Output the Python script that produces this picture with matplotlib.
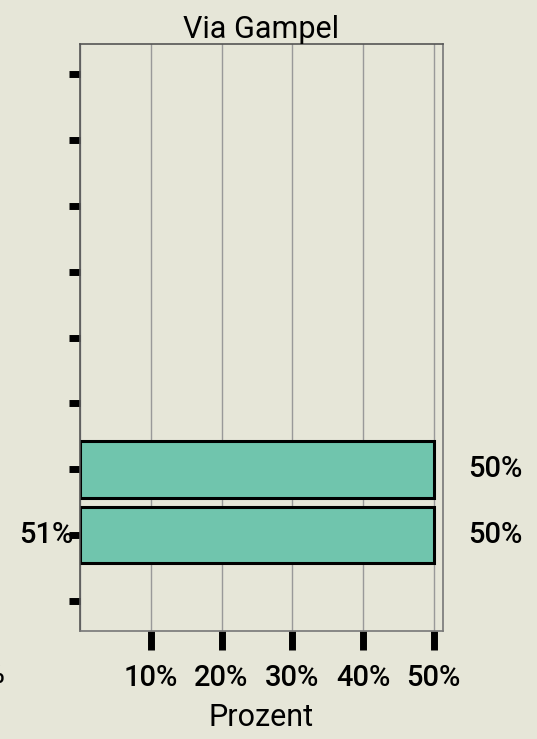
import matplotlib
matplotlib.use("Agg")
import matplotlib.pyplot as plt

# data
title = "Via Gampel"
x_label = "Prozent"
n_slots = 9                       # category slots on the y axis (unlabelled)
bar_slots = [6, 7]                # slots holding a bar, counted from the top
bar_values = [50, 50]             # percent
right_labels = ["50%", "50%"]
left_labels = ["", "51%"]
x_ticks = [10, 20, 30, 40, 50]
x_tick_labels = ["10%", "20%", "30%", "40%", "50%"]
grid_x = [0, 10, 20, 30, 40, 50]
x_max = 51.3

plt.rcParams['font.family'] = ['Roboto', 'DejaVu Sans']
plt.rcParams['font.weight'] = 500

bg = "#e6e6d8"
bar_color = "#70c5ad"
fs = 21

fig = plt.figure(figsize=(5.37, 7.39), dpi=100, facecolor=bg)
ax = fig.add_axes([80 / 537, 108 / 739, 363 / 537, 587 / 739])
ax.set_facecolor("none")

ax.set_xlim(0, x_max)
ax.set_ylim(n_slots - 0.545, -0.455)

for gx in grid_x:
    ax.axvline(gx, color="#999999", lw=1.0, zorder=0)

ax.barh(bar_slots, bar_values, height=0.86, color=bar_color,
        edgecolor="black", linewidth=2.2, zorder=2)

for y, lab in zip(bar_slots, right_labels):
    ax.annotate(lab, xy=(x_max, y), xytext=(18, 0), textcoords="offset points",
                va="center", ha="left", fontsize=fs)
for y, lab in zip(bar_slots, left_labels):
    if lab:
        ax.annotate(lab, xy=(0, y), xytext=(-5, 0), textcoords="offset points",
                    va="center", ha="right", fontsize=fs)

ax.set_yticks(range(n_slots))
ax.set_yticklabels([""] * n_slots)
ax.tick_params(axis="y", length=8, width=5, color="black", direction="out")

ax.set_xticks(x_ticks)
ax.set_xticklabels(x_tick_labels, fontsize=fs)
ax.tick_params(axis="x", length=14, width=5, color="black", direction="out", pad=10)

for side in ["top", "left"]:
    ax.spines[side].set_color("#555555")
    ax.spines[side].set_linewidth(1.2)
for side in ["right", "bottom"]:
    ax.spines[side].set_color("#777777")
    ax.spines[side].set_linewidth(1.2)

ax.set_title(title, fontsize=22, pad=4)
ax.set_xlabel(x_label, fontsize=22, labelpad=8)

# stray label clipped at the far left edge, as in the reference
fig.text(5 / 537, 64 / 739, "0%", ha="right", va="center", fontsize=fs)

fig.savefig("out.png", dpi=100, facecolor=bg)
